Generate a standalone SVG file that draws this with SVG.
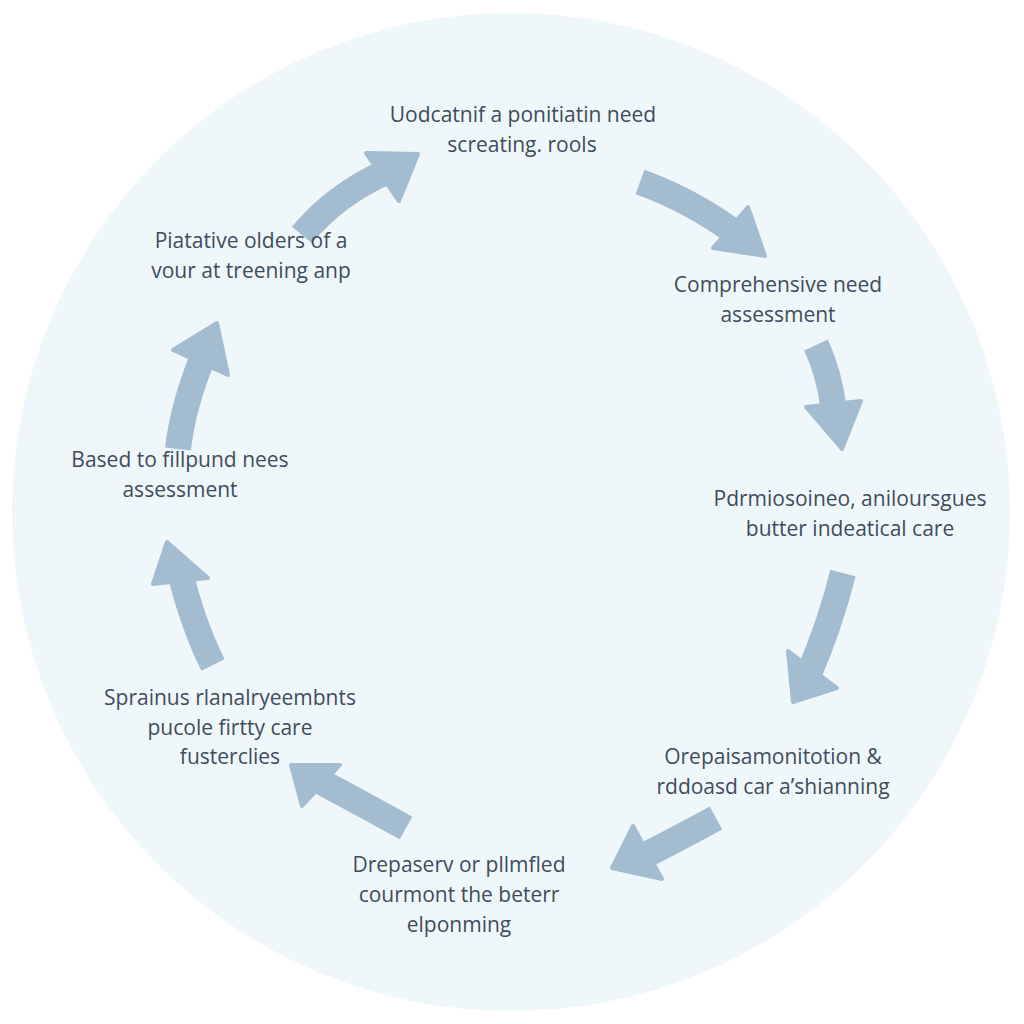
<svg xmlns="http://www.w3.org/2000/svg" width="1024" height="1024" viewBox="0 0 1024 1024">
<style>
.lbl{font-family:"Open Sans","DejaVu Sans",sans-serif;font-size:21px;fill:#404c5c;text-anchor:middle}
.shaft{fill:none;stroke:#a3bccf;stroke-width:26;stroke-linecap:butt}
.head{fill:#a3bccf;stroke:#a3bccf;stroke-width:4;stroke-linejoin:round}
</style>
<rect width="1024" height="1024" fill="#ffffff"/>
<circle cx="511" cy="512" r="499" fill="#f0f7fa"/>
<g id="connectors">
  <path class="shaft" d="M302,235 Q335,195 386,172"/>
  <polygon class="head" points="366,153 418,154 399,201"/>
  <path class="shaft" d="M640,182 Q690,200 734,232"/>
  <polygon class="head" points="748,207 765,256 713,248"/>
  <path class="shaft" d="M816,345 Q830,375 834,412"/>
  <polygon class="head" points="806,407 861,401 842,449"/>
  <path class="shaft" d="M843,573 Q830,625 808,676"/>
  <polygon class="head" points="788,651 837,688 793,702"/>
  <path class="shaft" d="M716,818 Q685,835 640,858"/>
  <polygon class="head" points="633,826 662,879 612,868"/>
  <path class="shaft" d="M406,828 Q370,808 314,778"/>
  <polygon class="head" points="340,765 302,806 291,765"/>
  <path class="shaft" d="M213,665 Q193,625 180,572"/>
  <polygon class="head" points="153,584 208,578 167,542"/>
  <path class="shaft" d="M178,449 Q183,405 204,354"/>
  <polygon class="head" points="173,350 228,375 217,323"/>
</g>
<g id="node1"><text class="lbl" x="523" y="122">Uodcatnif a ponitiatin need</text><text class="lbl" x="522" y="152">screating. rools</text></g>
<g id="node2"><text class="lbl" x="778" y="292">Comprehensive need</text><text class="lbl" x="778" y="322">assessment</text></g>
<g id="node3"><text class="lbl" x="850" y="506">Pdrmiosoineo, aniloursgues</text><text class="lbl" x="850" y="536">butter indeatical care</text></g>
<g id="node4"><text class="lbl" x="773" y="764">Orepaisamonitotion &amp;</text><text class="lbl" x="773" y="794">rddoasd car a’shianning</text></g>
<g id="node5"><text class="lbl" x="459" y="872">Drepaserv or pllmfled</text><text class="lbl" x="459" y="902">courmont the beterr</text><text class="lbl" x="459" y="932">elponming</text></g>
<g id="node6"><text class="lbl" x="230" y="705">Sprainus rlanalryeembnts</text><text class="lbl" x="230" y="735">pucole firtty care</text><text class="lbl" x="230" y="764">fusterclies</text></g>
<g id="node7"><text class="lbl" x="180" y="467">Based to fillpund nees</text><text class="lbl" x="180" y="497">assessment</text></g>
<g id="node8"><text class="lbl" x="251" y="248">Piatative olders of a</text><text class="lbl" x="251" y="278">vour at treening anp</text></g>
</svg>
